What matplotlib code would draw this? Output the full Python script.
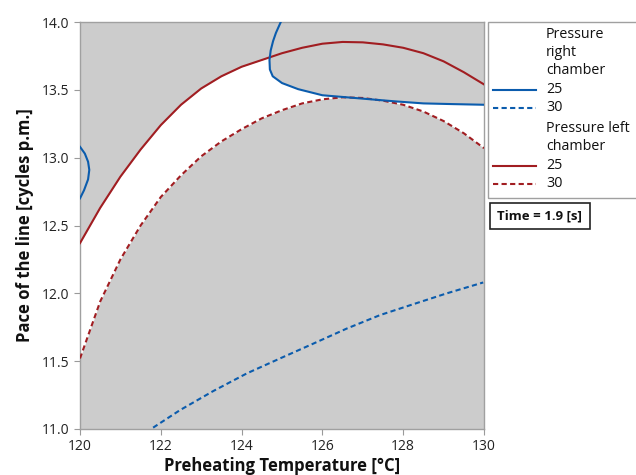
import matplotlib
matplotlib.use("Agg")
import matplotlib.pyplot as plt
from matplotlib.patches import Rectangle
from matplotlib.lines import Line2D
import numpy as np

plt.rcParams['font.family'] = ['Open Sans', 'DejaVu Sans']

# Pressure left chamber contours (same temperature grid)
temp_left = [120.0, 120.5, 121.0, 121.5, 122.0, 122.5, 123.0, 123.5, 124.0, 124.5, 125.0,
             125.5, 126.0, 126.5, 127.0, 127.5, 128.0, 128.5, 129.0, 129.5, 130.0]
left_25 = [12.37, 12.63, 12.86, 13.06, 13.24, 13.39, 13.51, 13.60, 13.67, 13.72, 13.77,
           13.81, 13.84, 13.853, 13.85, 13.835, 13.81, 13.77, 13.71, 13.63, 13.54]
left_30 = [11.52, 11.94, 12.25, 12.50, 12.71, 12.87, 13.01, 13.12, 13.21, 13.29, 13.35,
           13.40, 13.43, 13.445, 13.44, 13.42, 13.39, 13.34, 13.27, 13.18, 13.07]

# Pressure right chamber contours
right_25_top_t = [124.97, 124.85, 124.78, 124.72, 124.69, 124.70, 124.77, 125.0, 125.4,
                  126.0, 126.6, 127.2, 127.8, 128.5, 129.2, 130.0]
right_25_top_v = [14.00, 13.92, 13.86, 13.79, 13.72, 13.65, 13.60, 13.55, 13.505,
                  13.46, 13.445, 13.43, 13.415, 13.40, 13.395, 13.39]
right_25_left_t = [120.0, 120.12, 120.2, 120.23, 120.2, 120.1, 120.0]
right_25_left_v = [13.08, 13.03, 12.97, 12.91, 12.84, 12.76, 12.70]
right_30_t = [121.81, 122.48, 123.3, 124.13, 124.95, 125.78, 126.6, 127.43, 128.25, 129.08, 129.98]
right_30_v = [11.01, 11.14, 11.28, 11.41, 11.52, 11.63, 11.74, 11.84, 11.92, 12.00, 12.08]

xticks = [120, 122, 124, 126, 128, 130]
yticks = [11.0, 11.5, 12.0, 12.5, 13.0, 13.5, 14.0]

blue = '#0b5cad'
red = '#a11d21'
gray = '#cccccc'
dash = (0, (2.5, 1.6))

fig = plt.figure(figsize=(6.36, 4.75), dpi=100)
W, H = 636, 475
ax = fig.add_axes([80 / W, 1 - 429 / H, (484 - 80) / W, (429 - 22) / H])
ax.set_facecolor(gray)
ax.set_xlim(120, 130)
ax.set_ylim(11, 14)

# feasible (white) region
ax.fill_between(temp_left, left_30, left_25, color='white', lw=0, zorder=1)
xl, yl = ax.get_xlim(), ax.get_ylim()
poly_t = list(right_25_top_t) + [xl[1], right_25_top_t[0]]
poly_v = list(right_25_top_v) + [yl[1], yl[1]]
ax.fill(poly_t, poly_v, color=gray, lw=0, zorder=2)

lw = 1.5
ax.plot(temp_left, left_25, color=red, lw=lw, zorder=3)
ax.plot(temp_left, left_30, color=red, lw=lw, ls=dash, zorder=3)
ax.plot(right_25_top_t, right_25_top_v, color=blue, lw=lw, zorder=4)
ax.plot(right_25_left_t, right_25_left_v, color=blue, lw=lw, zorder=4)
ax.plot(right_30_t, right_30_v, color=blue, lw=lw, ls=dash, zorder=4)

ax.set_xticks(xticks)
ax.set_yticks(yticks)
ax.set_xticklabels([str(t) for t in xticks])
ax.set_yticklabels([f"{t:.1f}" for t in yticks])
ax.tick_params(colors='#9a9a9a', labelcolor='#222222', labelsize=10, length=4, width=0.8)
for s in ax.spines.values():
    s.set_color('#a0a0a0')
    s.set_linewidth(1.0)

ax.set_xlabel('Preheating Temperature [°C]', fontsize=12, fontweight='bold', color='#111111', labelpad=2)
ax.set_ylabel('Pace of the line [cycles p.m.]', fontsize=12, fontweight='bold', color='#111111', labelpad=6)

# Legend (manual)
def fx(px):
    return px / W

def fy(py):
    return 1 - py / H

fig.patches.append(Rectangle((fx(488), fy(198)), fx(640) - fx(488), fy(22) - fy(198),
                             transform=fig.transFigure, fill=False, edgecolor='#a0a0a0', lw=1.0))
tx = fx(546)
fs = 10.3
entries = [
    ('text', 'Pressure', 34), ('text', 'right', 52.5), ('text', 'chamber', 70.5),
    (('-', blue), '25', 89.5), ((dash, blue), '30', 107.5),
    ('text', 'Pressure left', 128.5), ('text', 'chamber', 146.5),
    (('-', red), '25', 165.5), ((dash, red), '30', 183.5),
]
for kind, label, py in entries:
    if kind != 'text':
        ls, c = kind
        fig.lines.append(Line2D([fx(493), fx(536)], [fy(py), fy(py)], transform=fig.transFigure,
                                color=c, lw=lw, ls=ls))
    fig.text(tx, fy(py), label, fontsize=fs, va='center', ha='left', color='#111111')

fig.patches.append(Rectangle((fx(489.5), fy(229)), fx(590) - fx(489.5), fy(203) - fy(229),
                             transform=fig.transFigure, fill=False, edgecolor='#222222', lw=1.2))
fig.text(fx(539.5), fy(216), 'Time = 1.9 [s]', fontsize=9.5, fontweight='bold',
         ha='center', va='center', color='#111111')

fig.savefig('out.png', dpi=100)
